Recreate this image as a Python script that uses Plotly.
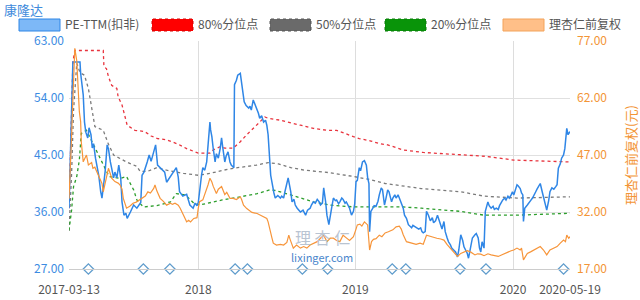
import datetime as dt
import plotly.graph_objects as go

# ---------------- data ----------------
pe_dates = ["2017-03-13","2017-03-14","2017-03-15","2017-03-16","2017-03-17","2017-03-20","2017-03-21","2017-04-07",
"2017-04-10","2017-04-14","2017-04-18","2017-04-20","2017-04-25","2017-04-27","2017-05-03","2017-05-05","2017-05-09",
"2017-05-12","2017-05-16","2017-05-19","2017-05-24","2017-05-26","2017-06-02","2017-06-06","2017-06-09","2017-06-13",
"2017-06-16","2017-06-20","2017-06-23","2017-06-27","2017-06-30","2017-07-05","2017-07-10","2017-07-12","2017-07-17",
"2017-07-20","2017-07-24","2017-07-31","2017-08-07","2017-08-14","2017-08-22","2017-08-24","2017-08-29","2017-09-05",
"2017-09-08","2017-09-13","2017-09-19","2017-09-22","2017-09-27","2017-10-12","2017-10-19","2017-10-24","2017-10-31",
"2017-11-07","2017-11-14","2017-11-17","2017-11-21","2017-11-28","2017-12-06","2017-12-13","2017-12-20","2017-12-25",
"2017-12-28","2018-01-02","2018-01-04","2018-01-09","2018-01-11","2018-01-16","2018-01-19","2018-01-23","2018-01-26",
"2018-01-29","2018-01-31","2018-02-02","2018-02-07","2018-02-09","2018-02-14","2018-02-26","2018-02-28","2018-03-02",
"2018-03-07","2018-03-09","2018-03-14","2018-03-19","2018-03-21","2018-03-27","2018-03-28","2018-04-02","2018-04-04",
"2018-04-12","2018-04-13","2018-04-17","2018-04-20","2018-04-25","2018-05-03","2018-05-07","2018-05-09","2018-05-14",
"2018-05-17","2018-05-22","2018-05-24","2018-05-28","2018-05-31","2018-06-05","2018-06-08","2018-06-12","2018-06-14",
"2018-06-21","2018-06-26","2018-06-28","2018-07-02","2018-07-06","2018-07-10","2018-07-12","2018-07-16","2018-07-19",
"2018-07-23","2018-07-26","2018-07-30","2018-08-03","2018-08-07","2018-08-10","2018-08-14","2018-08-17","2018-08-24",
"2018-08-30","2018-09-05","2018-09-10","2018-09-14","2018-09-18","2018-09-21","2018-09-27","2018-10-09","2018-10-12",
"2018-10-16","2018-10-19","2018-10-23","2018-10-26","2018-10-30","2018-11-02","2018-11-06","2018-11-09","2018-11-13",
"2018-11-16","2018-11-20","2018-11-23","2018-11-27","2018-11-30","2018-12-04","2018-12-07","2018-12-11","2018-12-14",
"2018-12-18","2018-12-21","2018-12-26","2018-12-28","2019-01-02","2019-01-03","2019-01-07","2019-01-10","2019-01-14",
"2019-01-17","2019-01-22","2019-01-25","2019-01-29","2019-01-31","2019-02-01","2019-02-12","2019-02-15","2019-02-19",
"2019-02-22","2019-02-27","2019-03-01","2019-03-06","2019-03-08","2019-03-13","2019-03-15","2019-03-20","2019-03-22",
"2019-03-26","2019-03-28","2019-04-01","2019-04-04","2019-04-09","2019-04-12","2019-04-16","2019-04-19","2019-04-24",
"2019-04-26","2019-05-06","2019-05-09","2019-05-13","2019-05-16","2019-05-20","2019-05-23","2019-05-28","2019-05-31",
"2019-06-05","2019-06-10","2019-06-12","2019-06-17","2019-06-19","2019-06-24","2019-06-27","2019-07-02","2019-07-04",
"2019-07-09","2019-07-12","2019-07-17","2019-07-19","2019-07-23","2019-07-26","2019-07-30","2019-08-02","2019-08-06",
"2019-08-09","2019-08-13","2019-08-16","2019-08-21","2019-08-26","2019-08-28","2019-09-02","2019-09-05","2019-09-09",
"2019-09-12","2019-09-17","2019-09-19","2019-09-24","2019-09-27","2019-10-10","2019-10-14","2019-10-17","2019-10-21",
"2019-10-23","2019-10-25","2019-10-28","2019-10-30","2019-11-01","2019-11-05","2019-11-07","2019-11-11","2019-11-14",
"2019-11-19","2019-11-21","2019-11-26","2019-11-29","2019-12-03","2019-12-06","2019-12-10","2019-12-13","2019-12-17",
"2019-12-20","2019-12-24","2019-12-27","2019-12-31","2020-01-03","2020-01-07","2020-01-10","2020-01-14","2020-01-17",
"2020-01-21","2020-01-23","2020-02-03","2020-02-05","2020-02-11","2020-02-14","2020-02-18","2020-02-21","2020-02-25",
"2020-02-28","2020-03-03","2020-03-06","2020-03-10","2020-03-13","2020-03-17","2020-03-20","2020-03-24","2020-03-27",
"2020-03-31","2020-04-03","2020-04-09","2020-04-14","2020-04-16","2020-04-20","2020-04-23","2020-04-27","2020-04-30",
"2020-05-07","2020-05-08","2020-05-12","2020-05-14","2020-05-19"]
pe_values = [36.6,40.3,44.3,48.7,53.6,58.9,59.7,59.7,
57.9,54.5,50.2,48.6,47.7,49.3,48.2,46.1,46.8,
44.5,43.4,41.8,39.2,38.2,40.7,42.5,46.6,46.0,
43.9,43.0,41.4,42.3,41.4,43.4,41.4,37.6,35.5,
35.8,35.0,36.0,37.1,36.6,37.5,41.8,42.3,43.9,
45.0,44.0,45.5,46.6,43.4,42.8,42.3,40.7,41.5,
42.3,43.0,41.5,39.2,38.5,38.8,37.1,36.6,37.4,
37.0,37.5,39.5,41.8,43.0,42.6,43.9,46.6,50.2,
49.0,47.9,46.1,43.9,45.2,44.5,46.1,47.7,46.1,
43.9,44.8,45.5,43.9,43.4,43.0,56.1,56.8,57.6,
57.9,57.1,55.0,53.4,52.8,52.4,52.7,52.1,53.7,
52.9,52.4,51.6,50.8,51.2,50.2,50.5,49.7,48.2,
41.8,39.8,39.0,38.2,38.6,38.4,38.2,38.5,38.2,
39.2,40.7,41.4,39.2,37.6,38.0,37.1,36.6,36.0,
36.3,35.5,36.3,36.6,37.1,37.6,37.4,38.0,37.6,
37.1,37.4,39.8,37.6,35.5,34.0,35.5,37.1,38.2,
37.8,37.9,37.3,37.6,38.2,38.0,37.4,37.6,37.1,
36.6,35.5,36.1,37.3,39.2,40.8,41.0,43.0,42.5,
43.9,44.1,43.4,41.4,40.5,32.9,36.1,36.6,37.0,
36.9,37.7,38.7,39.8,39.5,37.1,38.0,39.5,39.2,
38.2,37.6,38.2,38.7,38.2,38.7,38.2,37.5,36.6,
35.5,35.0,34.0,33.8,33.5,33.9,33.7,33.5,33.3,
33.5,32.9,32.7,32.9,36.1,35.5,34.6,35.1,34.3,
34.6,35.5,34.6,34.0,33.3,34.5,32.9,31.9,31.3,
30.8,30.3,30.0,29.7,28.9,30.0,32.4,31.5,30.5,
30.0,29.5,28.7,30.3,31.9,32.4,32.6,31.9,30.3,
29.7,31.3,31.0,30.3,36.1,36.8,37.6,37.0,36.6,
36.9,36.4,36.6,36.4,37.0,37.6,37.9,38.2,37.9,
38.5,38.2,38.7,39.2,38.7,39.5,40.3,40.1,39.7,
39.0,38.7,34.5,36.6,37.1,37.6,37.8,38.2,38.7,
39.2,39.6,40.3,40.5,39.2,38.2,37.1,36.3,37.8,
39.2,39.8,39.6,40.0,40.3,42.9,43.6,44.5,45.0,
46.0,47.6,49.2,48.2,48.7]

price_dates = ["2017-03-13","2017-03-14","2017-03-15","2017-03-16","2017-03-17","2017-03-20","2017-03-21","2017-03-22",
"2017-03-24","2017-03-29","2017-03-31","2017-04-06","2017-04-10","2017-04-11","2017-04-14","2017-04-18","2017-04-21",
"2017-04-26","2017-05-04","2017-05-08","2017-05-11","2017-05-16","2017-05-23","2017-05-26","2017-06-01","2017-06-05",
"2017-06-08","2017-06-13","2017-06-16","2017-06-20","2017-06-27","2017-07-04","2017-07-07","2017-07-12","2017-07-14",
"2017-07-19","2017-07-21","2017-07-28","2017-08-04","2017-08-11","2017-08-21","2017-08-31","2017-09-06","2017-09-12",
"2017-09-19","2017-09-21","2017-09-26","2017-09-29","2017-10-10","2017-10-17","2017-10-24","2017-11-01","2017-11-06",
"2017-11-10","2017-11-17","2017-11-22","2017-11-29","2017-12-06","2017-12-11","2017-12-14","2017-12-21","2017-12-28",
"2018-01-02","2018-01-04","2018-01-11","2018-01-16","2018-01-23","2018-01-26","2018-01-31","2018-02-02","2018-02-09",
"2018-02-14","2018-02-28","2018-03-07","2018-03-12","2018-03-19","2018-03-26","2018-04-02","2018-04-12","2018-04-16",
"2018-04-19","2018-04-26","2018-05-03","2018-05-10","2018-05-22","2018-05-28","2018-06-05","2018-06-12","2018-06-14",
"2018-06-20","2018-06-25","2018-06-27","2018-07-04","2018-07-12","2018-07-19","2018-07-26","2018-07-31","2018-08-02",
"2018-08-07","2018-08-09","2018-08-16","2018-08-24","2018-08-31","2018-09-07","2018-09-14","2018-09-21","2018-10-09",
"2018-10-16","2018-10-23","2018-10-30","2018-11-06","2018-11-13","2018-11-20","2018-11-27","2018-12-04","2018-12-11",
"2018-12-18","2018-12-26","2018-12-28","2019-01-03","2019-01-07","2019-01-11","2019-01-16","2019-01-22","2019-01-29",
"2019-01-31","2019-02-01","2019-02-13","2019-02-18","2019-02-22","2019-03-01","2019-03-07","2019-03-14","2019-03-21",
"2019-04-01","2019-04-09","2019-04-16","2019-04-19","2019-04-24","2019-05-06","2019-05-13","2019-05-20","2019-05-27",
"2019-06-04","2019-06-12","2019-06-19","2019-06-26","2019-07-04","2019-07-11","2019-07-19","2019-07-26","2019-08-02",
"2019-08-09","2019-08-16","2019-08-26","2019-09-02","2019-09-09","2019-09-17","2019-09-24","2019-10-10","2019-10-16",
"2019-10-23","2019-10-30","2019-11-07","2019-11-14","2019-11-21","2019-11-29","2019-12-06","2019-12-13","2019-12-20",
"2019-12-27","2020-01-03","2020-01-10","2020-01-17","2020-01-21","2020-02-03","2020-02-06","2020-02-11","2020-02-18",
"2020-02-25","2020-03-03","2020-03-10","2020-03-17","2020-03-24","2020-03-31","2020-04-09","2020-04-16","2020-04-23",
"2020-04-30","2020-05-08","2020-05-12","2020-05-15","2020-05-19"]
price_values = [35.5,39.0,43.0,47.3,52.0,57.2,62.9,69.2,
75.1,71.8,64.6,58.4,55.8,50.5,45.2,46.0,47.0,
44.4,45.0,43.5,43.8,42.6,40.9,39.5,37.3,39.0,
41.5,43.5,42.0,40.9,40.0,39.6,39.1,38.0,35.6,
33.8,33.0,33.5,34.3,34.6,35.2,36.2,37.3,37.0,
38.2,39.1,37.5,36.5,35.6,34.8,33.8,34.3,34.0,
34.3,33.8,33.0,31.2,29.4,29.8,29.4,30.3,30.5,
33.0,34.7,35.2,36.5,39.1,40.9,39.9,38.8,36.9,
38.0,38.7,36.6,37.2,35.6,35.6,35.3,36.0,35.3,
33.8,32.9,32.5,31.9,31.6,31.2,30.8,30.3,29.4,
26.8,25.1,23.8,23.3,23.5,23.3,24.0,25.9,24.8,
23.3,22.5,23.3,22.5,22.9,22.5,23.3,23.8,24.2,
25.1,25.9,24.2,25.1,25.1,24.5,24.2,25.9,25.2,
24.5,25.5,26.8,27.5,28.6,28.8,28.3,29.4,28.6,
24.0,22.0,24.2,24.8,25.0,25.9,25.5,26.5,26.8,
27.3,28.1,28.3,27.5,26.0,24.2,24.0,23.8,23.5,
23.8,23.5,25.9,25.6,25.4,25.1,24.9,24.6,23.4,
22.5,21.6,20.3,21.1,21.5,21.8,21.5,20.7,21.0,
20.9,20.5,21.0,20.7,20.5,20.3,20.7,21.1,21.6,
21.8,22.0,22.5,22.0,22.5,19.4,20.3,21.1,21.5,
22.0,22.5,22.9,22.0,20.7,22.0,22.5,22.9,23.8,
24.6,24.2,25.9,25.1,25.5]

p80_dates = ["2017-03-13","2017-03-15","2017-03-17","2017-03-21","2017-03-24","2017-06-01","2017-06-02","2017-06-08",
"2017-06-13","2017-06-20","2017-06-30","2017-07-04","2017-07-12","2017-07-19","2017-07-24","2017-08-09","2017-08-30",
"2017-09-13","2017-09-27","2017-10-24","2017-11-17","2017-12-06","2018-01-02","2018-01-26","2018-02-02","2018-02-26",
"2018-03-07","2018-03-26","2018-04-12","2018-04-26","2018-05-14","2018-05-28","2018-06-07","2018-06-14","2018-07-12",
"2018-08-24","2018-09-21","2018-10-30","2018-11-20","2018-12-26","2019-01-10","2019-02-12","2019-03-01","2019-03-20",
"2019-04-24","2019-06-12","2019-09-02","2019-11-01","2020-01-03","2020-03-17","2020-05-19"]
p80_values = [36.6,44.0,53.0,59.7,61.5,61.5,59.0,58.6,
57.4,56.0,55.5,54.2,52.9,50.8,49.7,48.9,48.7,
48.0,47.6,47.4,46.7,46.0,45.3,45.3,45.8,46.3,
46.1,46.1,47.1,48.2,49.2,50.3,51.0,50.8,50.5,
49.7,49.2,48.9,48.9,47.9,47.6,47.2,46.8,46.6,
45.8,45.4,45.0,44.8,44.2,44.0,43.9]

p50_dates = ["2017-03-13","2017-03-17","2017-03-22","2017-03-29","2017-04-07","2017-04-18","2017-04-26","2017-05-04",
"2017-05-11","2017-06-01","2017-06-13","2017-06-23","2017-07-21","2017-08-14","2017-08-21","2017-09-05","2017-09-26",
"2017-10-24","2017-11-29","2018-01-02","2018-01-26","2018-03-05","2018-03-26","2018-05-21","2018-06-14","2018-07-09",
"2018-08-03","2018-09-04","2018-11-06","2018-12-26","2019-01-29","2019-03-14","2019-06-06","2019-09-02","2019-10-30",
"2020-01-10","2020-05-19"]
p50_values = [33.0,42.0,52.0,59.5,58.0,57.6,55.5,52.1,
49.5,48.9,46.7,45.0,43.9,43.2,42.4,42.4,43.0,
42.6,42.1,41.8,42.1,42.6,42.9,43.4,43.8,43.6,
43.0,42.6,42.2,41.6,41.2,40.5,39.7,39.2,38.5,
38.2,38.4]

p20_dates = ["2017-03-13","2017-03-17","2017-03-22","2017-03-29","2017-04-06","2017-04-11","2017-04-21","2017-05-08",
"2017-05-23","2017-06-14","2017-07-07","2017-07-21","2017-08-07","2017-08-14","2017-08-28","2017-09-26","2017-11-01",
"2017-11-14","2017-12-04","2017-12-21","2018-01-04","2018-03-01","2018-04-12","2018-05-22","2018-06-20","2018-07-02",
"2018-08-03","2018-09-21","2018-11-06","2018-12-26","2019-03-01","2019-04-24","2019-06-06","2019-09-02","2019-10-30",
"2020-01-10","2020-05-19"]
p20_values = [33.1,36.3,40.0,41.6,44.2,48.4,48.9,46.8,
44.7,41.6,41.3,41.6,39.5,37.9,36.8,37.0,37.6,
38.9,38.7,37.4,37.1,37.9,38.4,38.9,39.5,39.4,
38.7,37.6,37.1,36.8,36.8,36.8,36.6,36.1,35.5,
35.5,35.8]

event_dates = ["2017-04-26","2017-08-28","2017-10-31","2018-03-29","2018-04-27","2018-08-29",
               "2018-10-31","2019-03-29","2019-04-30","2019-08-30","2019-11-04","2020-04-30"]

market_holidays = ["2017-04-03","2017-04-04","2017-05-01","2017-05-29","2017-05-30","2017-10-02","2017-10-03",
"2017-10-04","2017-10-05","2017-10-06","2018-01-01","2018-02-15","2018-02-16","2018-02-19","2018-02-20","2018-02-21",
"2018-04-05","2018-04-06","2018-04-30","2018-05-01","2018-06-18","2018-09-24","2018-10-01","2018-10-02","2018-10-03",
"2018-10-04","2018-10-05","2018-12-31","2019-01-01","2019-02-04","2019-02-05","2019-02-06","2019-02-07","2019-02-08",
"2019-04-05","2019-05-01","2019-05-02","2019-05-03","2019-06-07","2019-09-13","2019-10-01","2019-10-02","2019-10-03",
"2019-10-04","2019-10-07","2020-01-01","2020-01-24","2020-01-27","2020-01-28","2020-01-29","2020-01-30","2020-01-31",
"2020-04-06","2020-05-01","2020-05-04","2020-05-05"]

tick_dates = ["2017-03-13", "2018-01-02", "2019-01-02", "2020-01-02", "2020-05-19"]
tick_text = ["2017-03-13", "2018", "2019", "2020", "2020-05-19"]
left_ticks = [27, 36, 45, 54, 63]
right_ticks = [17, 32, 47, 62, 77]

legend_names = ["PE-TTM(扣非)", "80%分位点", "50%分位点", "20%分位点", "理杏仁前复权"]

# --------------- helpers ---------------
hol = set(market_holidays)


def trading(d):
    x = dt.date.fromisoformat(d)
    while x.weekday() >= 5 or x.isoformat() in hol:
        x += dt.timedelta(days=1)
    return x.isoformat()


def T(lst):
    return [trading(d) for d in lst]


FONT = "Noto Sans CJK SC, Noto Sans, sans-serif"
BLUE = "#2f86e6"
ORANGE = "#f7953a"
RED = "#e8333d"
GRAY = "#7a7a7a"
GREEN = "#2c9e2c"

# plot area in pixels
L, R, TOP, BOT = 69, 570, 41, 269
W, H = 640, 300


def px(x):
    return (x - L) / (R - L)


def py(y):
    return (BOT - y) / (BOT - TOP)


fig = go.Figure()
fig.add_trace(go.Scatter(x=T(p80_dates), y=p80_values, mode="lines",
                         line=dict(color=RED, width=1.3, dash="dot"), yaxis="y"))
fig.add_trace(go.Scatter(x=T(p50_dates), y=p50_values, mode="lines",
                         line=dict(color=GRAY, width=1.3, dash="dot"), yaxis="y"))
fig.add_trace(go.Scatter(x=T(p20_dates), y=p20_values, mode="lines",
                         line=dict(color=GREEN, width=1.3, dash="dot"), yaxis="y"))
fig.add_trace(go.Scatter(x=T(price_dates), y=price_values, mode="lines",
                         line=dict(color=ORANGE, width=1.2), yaxis="y2"))
fig.add_trace(go.Scatter(x=T(pe_dates), y=pe_values, mode="lines",
                         line=dict(color=BLUE, width=1.5), yaxis="y"))
fig.add_trace(go.Scatter(x=T(event_dates), y=[left_ticks[0]] * len(event_dates), mode="markers",
                         marker=dict(symbol="diamond", size=8, color="white",
                                     line=dict(color="#5f9ccc", width=1.3)),
                         cliponaxis=False, yaxis="y"))

# legend (manual, rectangular swatches)
legend_items = [
    (19, "#7db8f7", BLUE, "solid"),
    (152, "#ff0000", "#d40000", "dot"),
    (270, "#6a6a6a", "#555555", "dot"),
    (385, "#099409", "#077a07", "dot"),
    (503, "#ffbf88", "#f3a35a", "solid"),
]
shapes = []
annotations = []
for (x0, fill, edge, dash), name in zip(legend_items, legend_names):
    shapes.append(dict(type="rect", xref="paper", yref="paper",
                       x0=px(x0), x1=px(x0 + 41), y0=py(31), y1=py(19),
                       fillcolor=fill, line=dict(color=edge, width=1, dash=dash)))
    annotations.append(dict(xref="paper", yref="paper", x=px(x0 + 45), y=py(23.5),
                            text=name, showarrow=False, xanchor="left", yanchor="middle",
                            borderpad=0,
                            font=dict(family=FONT, size=12, color="#555555")))

annotations.append(dict(xref="paper", yref="paper", x=px(3), y=py(9), text="康隆达",
                        showarrow=False, xanchor="left", yanchor="middle", borderpad=0,
                        font=dict(family=FONT, size=13, color="#3f8bdc")))
annotations.append(dict(xref="paper", yref="paper", x=px(322), y=py(237), text="理 杏 仁",
                        showarrow=False, xanchor="center", yanchor="middle", borderpad=0,
                        font=dict(family=FONT, size=16, color="#b9c4d2")))
annotations.append(dict(xref="paper", yref="paper", x=px(322), y=py(257), text="lixinger.com",
                        showarrow=False, xanchor="center", yanchor="middle", borderpad=0,
                        font=dict(family=FONT, size=11, color="#4a86cc")))

fig.update_layout(
    width=W, height=H,
    margin=dict(l=L, r=W - R, t=TOP, b=H - BOT, autoexpand=False),
    paper_bgcolor="white", plot_bgcolor="white",
    showlegend=False,
    font=dict(family=FONT, size=12, color="#555555"),
    shapes=shapes, annotations=annotations,
    xaxis=dict(
        type="date", automargin=False,
        range=["2017-03-13", "2020-05-19"],
        rangebreaks=[dict(bounds=["sat", "mon"]), dict(values=market_holidays)],
        tickmode="array", tickvals=tick_dates, ticktext=tick_text,
        showgrid=True, gridcolor="#dddddd", gridwidth=1,
        showline=True, linecolor="#cccccc", linewidth=1,
        ticks="", ticklabelstandoff=10,
        tickfont=dict(family=FONT, size=12, color="#555555"),
        zeroline=False, fixedrange=True,
    ),
    yaxis=dict(
        range=[27, 63], tickmode="array", tickvals=left_ticks, tickformat=".2f",
        showgrid=True, gridcolor="#e0e0e0", zeroline=False, showline=False,
        ticklabelstandoff=4, automargin=False,
        tickfont=dict(family=FONT, size=12, color="#3c8ce2"),
    ),
    yaxis2=dict(
        range=[17, 77], tickmode="array", tickvals=right_ticks, tickformat=".2f",
        overlaying="y", side="right", showgrid=False, zeroline=False, showline=False,
        ticklabelstandoff=6, automargin=False,
        tickfont=dict(family=FONT, size=12, color="#f39536"),
        title=dict(text="理杏仁前复权(元)", font=dict(family=FONT, size=13, color="#f39536"),
                   standoff=20),
    ),
)

fig.write_html("out.html")
